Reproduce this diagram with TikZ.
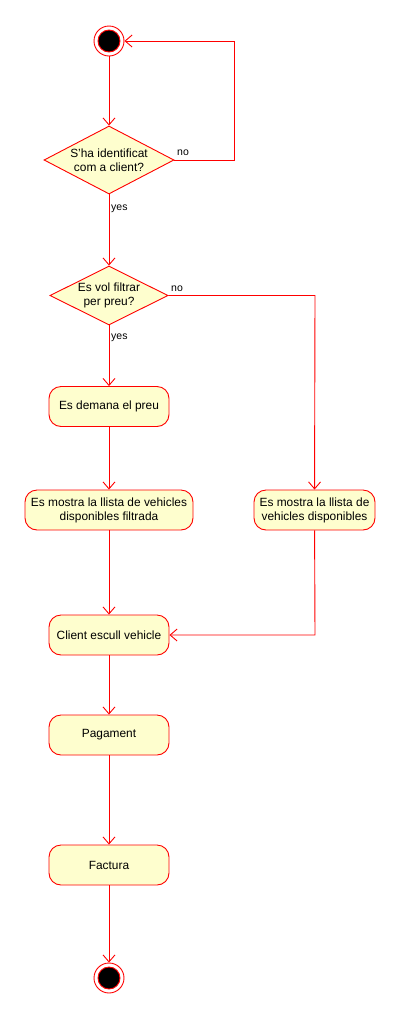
\documentclass[tikz,border=0pt]{standalone}
\usepackage{fontspec}
\setmainfont{Liberation Sans}
\usetikzlibrary{shapes.geometric,arrows.meta}
\definecolor{nodefill}{HTML}{FEFECE}
\definecolor{edge}{HTML}{FF0000}
\begin{document}
\begin{tikzpicture}[x=1pt,y=-1pt,
  every node/.style={font=\fontsize{11.9}{14}\selectfont},
  act/.style={draw=edge,fill=nodefill,rounded corners=12pt,minimum height=40pt,align=center,line width=0.9pt,inner sep=2pt},
  dec/.style={draw=edge,fill=nodefill,diamond,line width=0.9pt,inner sep=0pt},
  flow/.style={draw=edge,line width=0.9pt,-{Straight Barb[length=7pt,width=12pt,line width=0.9pt]}},
  lbl/.style={font=\fontsize{10.5}{12}\selectfont,inner sep=1pt}]
\useasboundingbox (0,0) rectangle (400,1021);
% start
\node[circle,draw=edge,line width=0.9pt,minimum size=30pt,inner sep=0] (start) at (109,41) {};
\node[circle,fill=black,draw=edge,line width=0.9pt,minimum size=22pt,inner sep=0] at (109,41) {};
% decision 1
\node[dec,minimum width=130pt,minimum height=68pt] (d1) at (109,160) {};
\node[align=center] at (d1) {S'ha identificat\\com a client?};
% decision 2
\node[dec,minimum width=118pt,minimum height=59pt] (d2) at (109,295.5) {};
\node[align=center] at (d2) {Es vol filtrar\\per preu?};
% activities
\node[act,minimum width=120pt] (preu) at (109,406.5) {Es demana el preu};
\node[act,minimum width=168pt] (filt) at (109,510) {Es mostra la llista de vehicles\\disponibles filtrada};
\node[act,minimum width=121pt] (disp) at (314.5,510) {Es mostra la llista de\\vehicles disponibles};
\node[act,minimum width=120pt] (escull) at (109,635) {Client escull vehicle};
\node[act,minimum width=120pt] (pag) at (109,735) {Pagament};
\node[act,minimum width=120pt] (fact) at (109,865) {Factura};
% end
\node[circle,draw=edge,line width=0.9pt,minimum size=30pt,inner sep=0] (end) at (109,978) {};
\node[circle,fill=black,draw=edge,line width=0.9pt,minimum size=22pt,inner sep=0] at (109,978) {};
% connectors
\coordinate (c1) at (234,160);
\coordinate (c2) at (234,41);
\coordinate (c3) at (315,295.5);
\coordinate (c4) at (315,635);
\draw[flow] (start) -- (d1);
\draw[flow] (d1.east) -- (c1) -- (c2) -- (start);
\node[lbl,anchor=south west] at (176,157) {no};
\draw[flow] (d1) -- (d2);
\node[lbl,anchor=west] at (110,209) {yes};
\draw[flow] (d2) -- (preu);
\node[lbl,anchor=west] at (110,338) {yes};
\draw[flow] (d2.east) -- (c3) -- (disp);
\node[lbl,anchor=south west] at (170,292.5) {no};
\draw[flow] (preu) -- (filt);
\draw[flow] (filt) -- (escull);
\draw[flow] (disp) -- (c4) -- (escull);
\draw[flow] (escull) -- (pag);
\draw[flow] (pag) -- (fact);
\draw[flow] (fact) -- (end);
\end{tikzpicture}
\end{document}
